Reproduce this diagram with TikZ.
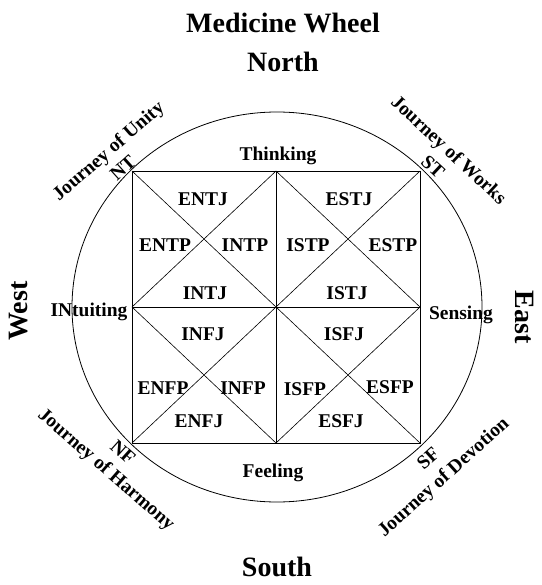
\documentclass[tikz,border=0pt]{standalone}
\usepackage{fontspec}
\setmainfont{Liberation Serif}
\usepackage{tikz}
\usetikzlibrary{positioning}
\tikzstyle{heading} = [font=\fontsize{21}{24}\selectfont\bfseries, inner sep=0pt]
\tikzstyle{function} = [font=\fontsize{14.6}{17}\selectfont\bfseries, inner sep=0pt]
\tikzstyle{mbti} = [font=\fontsize{14.6}{17}\selectfont\bfseries, inner sep=0pt]
\tikzstyle{journey} = [font=\fontsize{14.6}{17}\selectfont\bfseries, inner sep=0pt]
\tikzstyle{rim} = [line width=0.6pt]
\tikzstyle{frame} = [line width=0.75pt]
\tikzstyle{cross} = [line width=0.45pt]

\begin{document}
\begin{tikzpicture}[x=0.75pt, y=-0.75pt, node distance=14pt]
    \useasboundingbox (0,0) rectangle (542,585);
    \coordinate (c) at (276,307);
    \coordinate (nt) at (132,171);
    \coordinate (st) at (420,171);
    \coordinate (nf) at (132,443);
    \coordinate (sf) at (420,443);
    \coordinate (tm) at (276,171);
    \coordinate (bm) at (276,443);
    \coordinate (lm) at (132,307);
    \coordinate (rm) at (420,307);
    \draw [rim] (277,307) ellipse [x radius=205, y radius=195];
    \draw [frame] (nt) -- (st) -- (sf) -- (nf) -- cycle;
    \draw [frame] (tm) -- (bm) (lm) -- (rm);
    \draw [cross] (nt) -- (sf) (st) -- (nf);
    \draw [cross] (tm) -- (lm) -- (bm) -- (rm) -- cycle;
    \node (title) [heading] at (283,23) {Medicine Wheel};
    \node (north) [heading, below=of title] {North};
    \node (south) [heading] at (277,567) {South};
    \node (west) [heading, rotate=90] at (19,311) {West};
    \node (east) [heading, rotate=-90] at (525,317) {East};
    \node (thinking) [function] at (278,156) {Thinking};
    \node (feeling) [function] at (273,473) {Feeling};
    \node (intuiting) [function] at (89,312) {INtuiting};
    \node (sensing) [function] at (461,315) {Sensing};
    \node (entj) [mbti] at (203,199) {ENTJ};
    \node (estj) [mbti] at (349,199) {ESTJ};
    \node (entp) [mbti] at (165,245) {ENTP};
    \node (intp) [mbti] at (245,245) {INTP};
    \node (istp) [mbti] at (308,245) {ISTP};
    \node (estp) [mbti] at (393,245) {ESTP};
    \node (intj) [mbti] at (205,293) {INTJ};
    \node (istj) [mbti] at (347,293) {ISTJ};
    \node (infj) [mbti] at (203,334) {INFJ};
    \node (isfj) [mbti] at (344,334) {ISFJ};
    \node (enfp) [mbti] at (163,388) {ENFP};
    \node (infp) [mbti] at (243,388) {INFP};
    \node (isfp) [mbti] at (305,389) {ISFP};
    \node (esfp) [mbti] at (390,387) {ESFP};
    \node (enfj) [mbti] at (199,421) {ENFJ};
    \node (esfj) [mbti] at (341,421) {ESFJ};
    \node (ntlabel) [journey, rotate=42] at (123,168) {NT};
    \node (stlabel) [journey, rotate=-43] at (433,167) {ST};
    \node (nflabel) [journey, rotate=-42] at (123,452) {NF};
    \node (sflabel) [journey, rotate=42] at (428,458) {SF};
    \node (unity) [journey, rotate=41] at (109,152) {Journey of Unity};
    \node (works) [journey, rotate=-43] at (448,151) {Journey of Works};
    \node (harmony) [journey, rotate=-41] at (106,470) {Journey of Harmony};
    \node (devotion) [journey, rotate=42] at (444,478) {Journey of Devotion};
\end{tikzpicture}
\end{document}
